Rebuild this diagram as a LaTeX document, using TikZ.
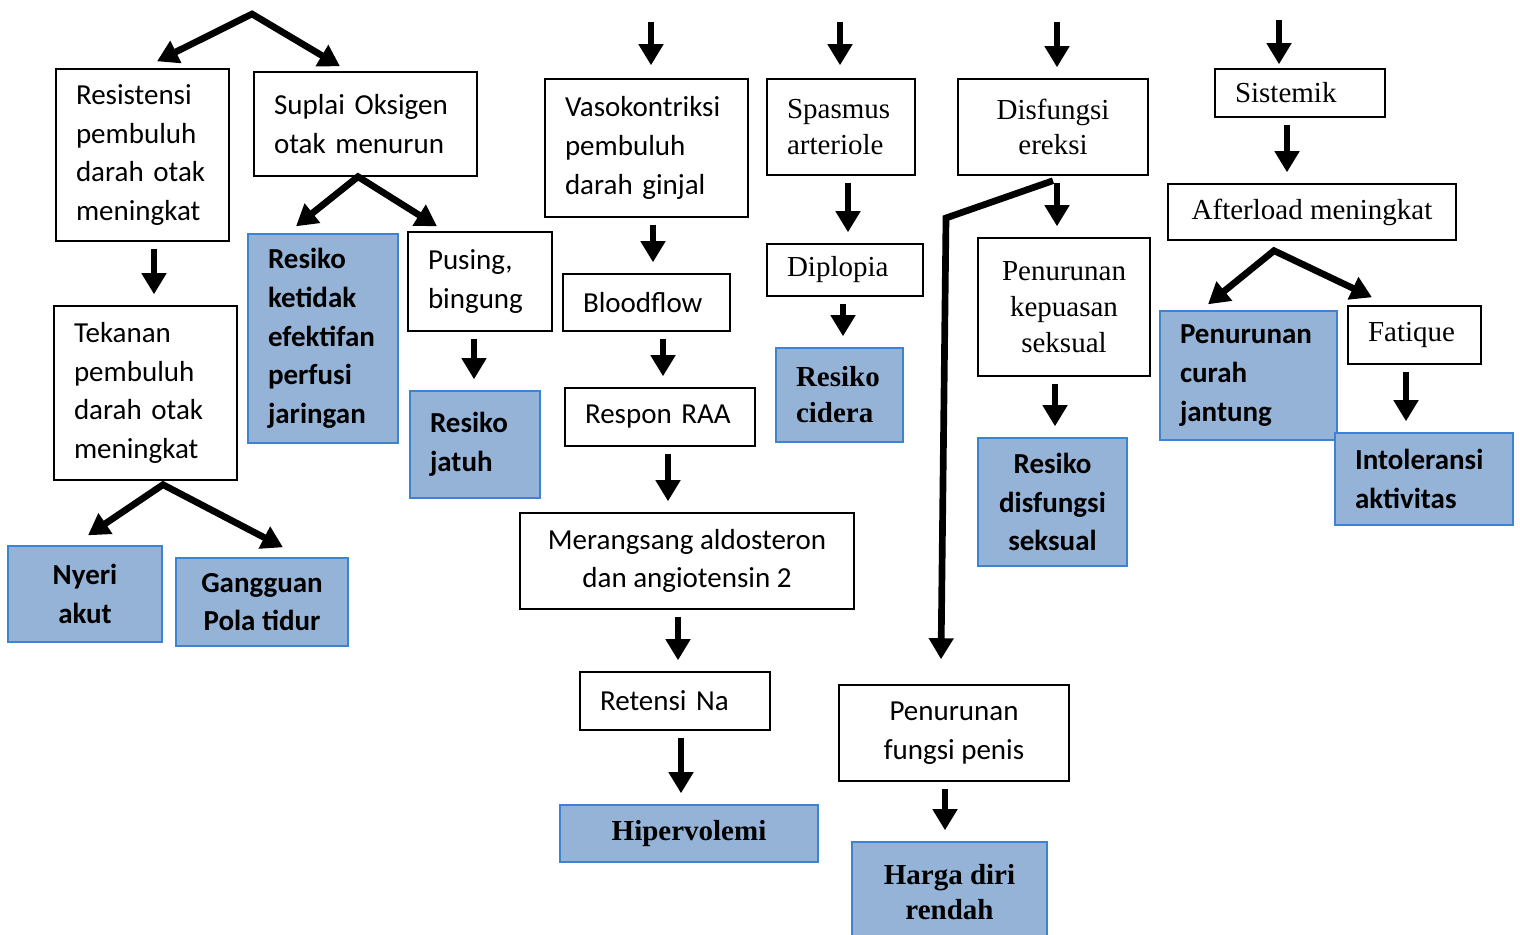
\documentclass[tikz,border=0pt]{standalone}
\usepackage{fontspec}
\setmainfont{Carlito}
\newfontfamily\tnr{Liberation Serif}
\usetikzlibrary{arrows.meta,calc}

\definecolor{dxfill}{RGB}{149,179,215}
\definecolor{dxline}{RGB}{62,130,210}

\tikzset{
  box/.style={draw, line width=0.8pt, fill=white, inner ysep=2pt,
    font=\fontsize{16.5}{22}\selectfont},
  rbox/.style={box, font=\tnr\fontsize{16.5}{20.4}\selectfont},
  dx/.style={draw=dxline, line width=0.8pt, fill=dxfill, inner ysep=2pt,
    font=\bfseries\fontsize{16.5}{22}\selectfont},
  rdx/.style={dx, font=\tnr\bfseries\fontsize{16.5}{20.4}\selectfont},
  lft/.style={align=left, inner xsep=0.4cm, text width=#1},
  ctr/.style={align=center},
  arr/.style={line width=3.8pt, -{Triangle[length=12pt,width=13.5pt]}},
  arrs/.style={line width=3.8pt,
    {Triangle[length=12pt,width=13.5pt]}-{Triangle[length=12pt,width=13.5pt]}},
  varr/.style={arr, shorten <=0.14cm, shorten >=0.22cm},
}

\begin{document}
\begin{tikzpicture}[x=0.02cm,y=-0.02cm]
  \useasboundingbox (0,0) rectangle (1520,935);

  % left part
  \node[box, lft=2.66cm, minimum height=3.44cm] (res) at (142.5,155) {Resistensi\\pembuluh\\darah otak\\meningkat};
  \node[box, lft=3.66cm, minimum height=2.08cm] (sup) at (365.5,124) {Suplai Oksigen\\otak menurun};
  \node[box, lft=2.86cm, minimum height=3.48cm] (tek) at (145.5,393) {Tekanan\\pembuluh\\darah otak\\meningkat};
  \node[dx, lft=2.2cm, minimum height=4.18cm] (rkp) at (323,338.5) {Resiko\\ketidak\\efektifan\\perfusi\\jaringan};
  \node[box, lft=2.08cm, minimum height=1.98cm] (pus) at (480,281.5) {Pusing,\\bingung};
  \node[dx, lft=1.8cm, minimum height=2.14cm] (rja) at (475,444.5) {Resiko\\jatuh};
  \node[dx, ctr, minimum width=3.08cm, minimum height=1.92cm] (nye) at (85,594) {Nyeri\\akut};
  \node[dx, ctr, minimum width=3.44cm, minimum height=1.76cm] (gan) at (262,602) {Gangguan\\Pola tidur};

  % ginjal
  \node[box, lft=3.26cm, minimum height=2.76cm] (vas) at (646.5,148) {Vasokontriksi\\pembuluh\\darah ginjal};
  \node[box, lft=2.54cm, minimum height=1.14cm] (blood) at (646.5,302.5) {Bloodflow};
  \node[box, lft=3.0cm, minimum height=1.16cm] (raa) at (660,417) {Respon RAA};
  \node[box, ctr, minimum width=6.68cm, minimum height=1.92cm] (mer) at (687,561) {Merangsang aldosteron\\dan angiotensin 2};
  \node[box, lft=3.0cm, minimum height=1.16cm] (ret) at (675,701) {Retensi Na};
  \node[rdx, ctr, minimum width=5.16cm, minimum height=1.14cm] (hip) at (689,833.5) {Hipervolemi};

  % mata
  \node[rbox, lft=2.16cm, minimum height=1.92cm] (spa) at (841,127) {Spasmus\\arteriole};
  \node[rbox, lft=2.32cm, minimum height=1.04cm] (dip) at (845,270) {Diplopia};
  \node[rdx, lft=1.74cm, minimum height=1.88cm] (rci) at (839.5,395) {Resiko\\cidera};

  % ereksi
  \node[rbox, ctr, minimum width=3.8cm, minimum height=1.92cm] (dis) at (1053,127) {Disfungsi\\ereksi};
  \node[rbox, ctr, minimum width=3.44cm, minimum height=2.76cm] (pkp) at (1064,307) {Penurunan\\kepuasan\\seksual};
  \node[dx, ctr, minimum width=2.98cm, minimum height=2.56cm] (rds) at (1052.5,502) {Resiko\\disfungsi\\seksual};
  \node[box, ctr, minimum width=4.6cm, minimum height=1.92cm] (pfp) at (954,733) {Penurunan\\fungsi penis};
  \node[rdx, ctr, minimum width=3.9cm, minimum height=2.0cm] (hdr) at (949.5,892) {Harga diri\\rendah};

  % sistemik
  \node[rbox, lft=2.6cm, minimum height=0.96cm] (sis) at (1300,93) {Sistemik};
  \node[rbox, ctr, minimum width=5.76cm, minimum height=1.12cm] (aft) at (1312,212) {Afterload meningkat};
  \node[dx, lft=2.74cm, minimum height=2.58cm] (pcj) at (1248.5,375.5) {Penurunan\\curah\\jantung};
  \node[rbox, lft=1.86cm, minimum height=1.16cm] (fat) at (1414.5,335) {Fatique};
  \node[dx, lft=2.76cm, minimum height=1.84cm] (int) at (1424,479) {Intoleransi\\aktivitas};

  % arrows coming in from above
  \coordinate (pk) at (252,14);
  \coordinate (tv) at (651,22);
  \coordinate (ts) at (840,22);
  \coordinate (td) at (1057,22);
  \coordinate (tt) at (1279,20);
  \draw[arrs] ([xshift=0.29cm,yshift=0.14cm]res.north) -- (pk) -- ([xshift=-0.51cm,yshift=0.1cm]sup.north);
  \draw[arr] (tv) -- ([yshift=0.26cm]tv |- vas.north);
  \draw[arr] (ts) -- ([yshift=0.26cm]ts |- spa.north);
  \draw[arr] (td) -- ([yshift=0.22cm]td |- dis.north);
  \draw[arr] (tt) -- ([yshift=0.08cm]tt |- sis.north);

  % branches
  \draw[arrs] ([xshift=-0.54cm,yshift=0.14cm]rkp.north) -- ([xshift=-0.15cm]sup.south) -- ([xshift=-0.86cm,yshift=0.1cm]pus.north);
  \draw[arrs] ([xshift=0.06cm,yshift=0.2cm]nye.north) -- ([xshift=0.35cm,yshift=-0.08cm]tek.south) -- ([xshift=0.42cm,yshift=0.2cm]gan.north);
  \draw[arrs] ([xshift=-0.81cm,yshift=0.12cm]pcj.north) -- ([xshift=-0.76cm,yshift=-0.2cm]aft.south) -- ([xshift=-0.85cm,yshift=0.16cm]fat.north);
  \coordinate (bend) at (946,218);
  \draw[arr] ([yshift=-0.1cm]dis.south) -- (bend) -- ([xshift=-0.26cm,yshift=0.5cm]pfp.north);

  % straight down
  \draw[varr] ([xshift=0.23cm]res.south) -- ([xshift=0.23cm]res.south |- tek.north);
  \draw[varr] ([xshift=-0.12cm]pus.south) -- ([xshift=-0.12cm]pus.south |- rja.north);
  \draw[varr] ([xshift=0.13cm]vas.south) -- ([xshift=0.13cm]vas.south |- blood.north);
  \draw[varr] ([xshift=0.33cm]blood.south) -- ([xshift=0.33cm]blood.south |- raa.north);
  \draw[varr] ([xshift=0.16cm]raa.south) -- ([xshift=0.16cm]raa.south |- mer.north);
  \draw[varr] ([xshift=-0.18cm]mer.south) -- ([xshift=-0.18cm]mer.south |- ret.north);
  \draw[varr] ([xshift=0.12cm]ret.south) -- ([xshift=0.12cm]ret.south |- hip.north);
  \draw[varr] ([xshift=0.14cm]spa.south) -- ([xshift=0.14cm]spa.south |- dip.north);
  \draw[varr] ([xshift=-0.04cm]dip.south) -- ([xshift=-0.04cm]dip.south |- rci.north);
  \draw[varr] ([xshift=0.08cm]dis.south) -- ([xshift=0.08cm]dis.south |- pkp.north);
  \draw[varr] ([xshift=-0.18cm]pkp.south) -- ([xshift=-0.18cm]pkp.south |- rds.north);
  \draw[varr] ([xshift=-0.18cm]pfp.south) -- ([xshift=-0.18cm]pfp.south |- hdr.north);
  \draw[varr] ([xshift=-0.26cm]sis.south) -- ([xshift=-0.26cm]sis.south |- aft.north);
  \draw[varr] ([xshift=-0.17cm]fat.south) -- ([xshift=-0.17cm]fat.south |- int.north);
\end{tikzpicture}
\end{document}
